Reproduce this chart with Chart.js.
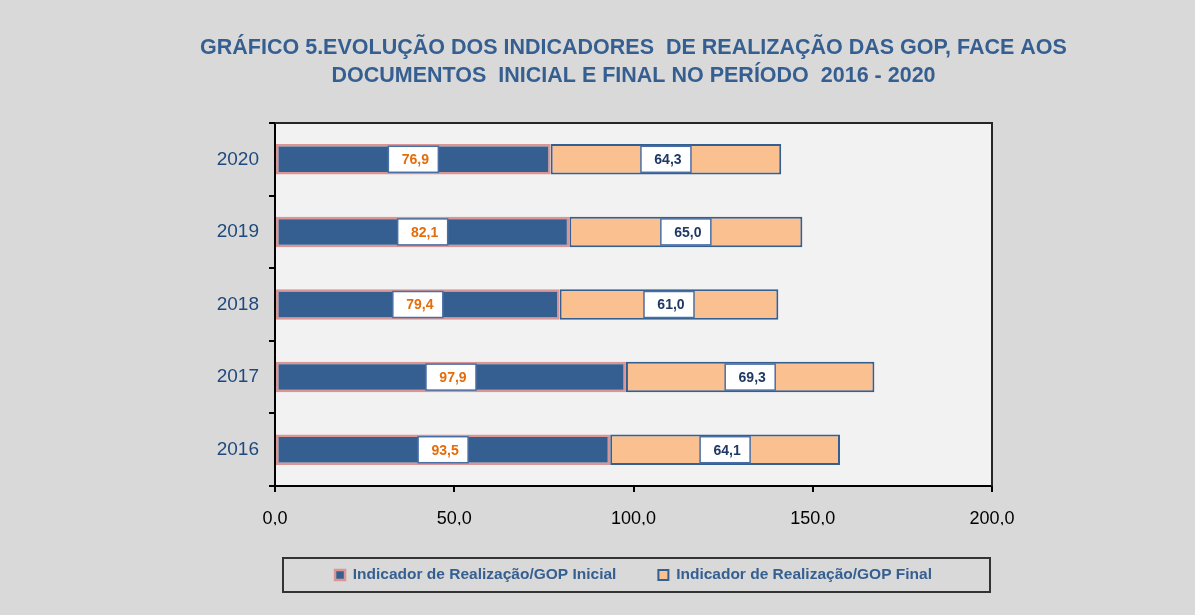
<!DOCTYPE html>
<html lang="pt">
<head>
    <meta charset="UTF-8">
    <title>Gráfico 5</title>
    <script src="https://cdn.jsdelivr.net/npm/chart.js"></script>
    <style>
        body { margin: 0; background: #d9d9d9; }
        canvas { display: block; }
    </style>
</head>
<body>
    <canvas id="gopChart" width="1195" height="615"></canvas>

    <script>
        // data
        const years = ['2016', '2017', '2018', '2019', '2020'];
        const gopInicial = [93.5, 97.9, 79.4, 82.1, 76.9];
        const gopFinal = [64.1, 69.3, 61.0, 65.0, 64.3];
        const seriesNames = ['Indicador de Realização/GOP Inicial', 'Indicador de Realização/GOP Final'];
        const xTicks = [0, 50, 100, 150, 200];
        const titleLines = [
            'GRÁFICO 5.EVOLUÇÃO DOS INDICADORES  DE REALIZAÇÃO DAS GOP, FACE AOS',
            'DOCUMENTOS  INICIAL E FINAL NO PERÍODO  2016 - 2020'
        ];

        const FONT = "'Liberation Sans', Arial, sans-serif";
        const LEGEND_SIZE = 15.5;
        const fmt = v => v.toFixed(1).replace('.', ',');

        // background, plot area, frame, title and legend box
        const framePlugin = {
            id: 'frame',
            beforeDraw(chart) {
                const { ctx, chartArea: a } = chart;
                ctx.save();
                ctx.fillStyle = '#d9d9d9';
                ctx.fillRect(0, 0, chart.width, chart.height);
                ctx.fillStyle = '#f2f2f2';
                ctx.fillRect(a.left, a.top, a.right - a.left, a.bottom - a.top);
                ctx.restore();
            },
            afterDraw(chart) {
                const { ctx, chartArea: a } = chart;
                ctx.save();
                ctx.strokeStyle = '#262626';
                ctx.lineWidth = 2;
                ctx.beginPath();
                ctx.moveTo(a.left, a.top);
                ctx.lineTo(a.right, a.top);
                ctx.lineTo(a.right, a.bottom);
                ctx.stroke();

                // title, centred over the plot area
                const cx = (a.left + a.right) / 2;
                ctx.fillStyle = '#365f91';
                ctx.font = 'bold 21.5px ' + FONT;
                ctx.textAlign = 'center';
                ctx.textBaseline = 'middle';
                titleLines.forEach((t, i) => ctx.fillText(t, cx, 48 + i * 28));

                // legend frame
                const lg = chart.legend;
                const ly = lg.top + lg.options.labels.padding + LEGEND_SIZE / 2;
                ctx.strokeStyle = '#333333';
                ctx.lineWidth = 2;
                ctx.strokeRect(lg.left + 8, ly - 17, lg.right - lg.left - 10, 34);
                ctx.restore();
            }
        };

        // boxed value labels in the middle of each segment
        const boxLabels = {
            id: 'boxLabels',
            afterDatasetsDraw(chart) {
                const { ctx } = chart;
                const colors = ['#e46c0a', '#1f3864'];
                ctx.save();
                ctx.font = 'bold 14px ' + FONT;
                ctx.textAlign = 'center';
                ctx.textBaseline = 'middle';
                chart.data.datasets.forEach((ds, di) => {
                    chart.getDatasetMeta(di).data.forEach((bar, i) => {
                        const cx = (bar.x + bar.base) / 2;
                        const cy = bar.y;
                        ctx.fillStyle = '#ffffff';
                        ctx.fillRect(cx - 25, cy - 13, 50, 26);
                        ctx.strokeStyle = '#4a6fa5';
                        ctx.lineWidth = 1.5;
                        ctx.strokeRect(cx - 25, cy - 13, 50, 26);
                        ctx.fillStyle = colors[di];
                        ctx.fillText(fmt(ds.data[i]), cx + 2, cy + 1);
                    });
                });
                ctx.restore();
            }
        };

        const ctx = document.getElementById('gopChart').getContext('2d');
        const gopChart = new Chart(ctx, {
            type: 'bar',
            data: {
                labels: years,
                datasets: [{
                    label: seriesNames[0],
                    data: gopInicial,
                    backgroundColor: '#355f91',
                    borderColor: '#d99694',
                    borderWidth: 2.5,
                    borderSkipped: false
                }, {
                    label: seriesNames[1],
                    data: gopFinal,
                    backgroundColor: '#fac090',
                    borderColor: '#365f91',
                    borderWidth: 2,
                    borderSkipped: false
                }]
            },
            options: {
                indexAxis: 'y',
                responsive: false,
                animation: false,
                layout: { padding: { top: 123, right: 203, bottom: 22.25, left: 0 } },
                datasets: { bar: { barPercentage: 0.42, categoryPercentage: 1 } },
                scales: {
                    x: {
                        stacked: true,
                        min: 0,
                        max: 200,
                        afterBuildTicks: s => { s.ticks = xTicks.map(v => ({ value: v })); },
                        afterFit: s => { s.height = 39.25; },
                        ticks: {
                            color: '#000000',
                            padding: 16,
                            font: { family: FONT, size: 18 },
                            callback: v => fmt(v)
                        },
                        grid: { drawOnChartArea: false, drawTicks: true, tickLength: 6, color: '#000000', lineWidth: 2 },
                        border: { color: '#000000', width: 2 }
                    },
                    y: {
                        stacked: true,
                        reverse: true,
                        afterFit: s => { s.width = 275; },
                        ticks: {
                            color: '#1f497d',
                            padding: 10,
                            font: { family: FONT, size: 19 }
                        },
                        grid: { offset: true, drawOnChartArea: false, drawTicks: true, tickLength: 6, color: '#000000', lineWidth: 2 },
                        border: { color: '#000000', width: 2 }
                    }
                },
                plugins: {
                    tooltip: { enabled: false },
                    title: { display: false },
                    legend: {
                        position: 'bottom',
                        fullSize: false,
                        labels: {
                            color: '#355f91',
                            boxWidth: 10,
                            boxHeight: 10,
                            padding: 42,
                            font: { family: FONT, size: LEGEND_SIZE, weight: 'bold' }
                        }
                    }
                }
            },
            plugins: [framePlugin, boxLabels]
        });
    </script>
</body>
</html>
